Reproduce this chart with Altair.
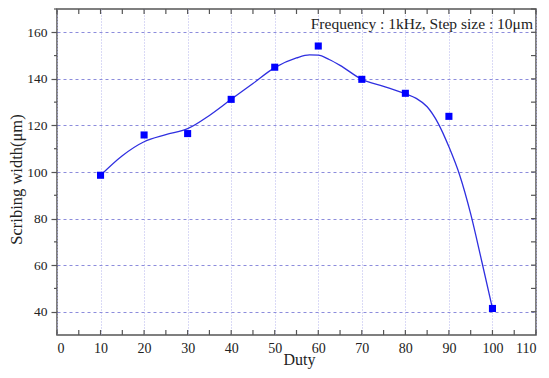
import altair as alt
import pandas as pd

# measured data points
duty = [10, 20, 30, 40, 50, 60, 70, 80, 90, 100]
width = [98.6, 115.9, 116.5, 131.2, 145.0, 154.1, 139.8, 133.8, 123.9, 41.4]

# fitted curve
fit_duty = [10, 15, 20, 25, 30, 35, 40, 45, 50, 55, 58, 60, 62.5, 65, 70, 75, 80,
            82.5, 85, 87.5, 90, 92.5, 95, 97.5, 100]
fit_width = [98.6, 107.0, 113.0, 116.0, 118.6, 124.3, 131.2, 138.0, 144.8, 149.0,
             150.3, 150.2, 148.3, 145.8, 139.8, 136.8, 133.6, 131.6, 128.0, 121.0,
             110.8, 98.5, 82.0, 62.0, 41.4]

x_ticks = list(range(0, 111, 10))
y_ticks = list(range(40, 161, 20))
y_minor = list(range(50, 171, 20))
y_right = list(range(40, 171, 10))
x_all = list(range(0, 111, 5))

annotation = "Frequency : 1kHz, Step size : 10\u03bcm"

W, H = 479, 326
FONT = "Liberation Serif"
AX = "#555555"

xs = alt.Scale(domain=[0, 110], nice=False, zero=False)
ys = alt.Scale(domain=[30, 170], nice=False, zero=False)

pts_df = pd.DataFrame({"duty": duty, "width": width})
fit_df = pd.DataFrame({"duty": fit_duty, "width": fit_width})

base_x = alt.X("duty:Q", scale=xs, title="Duty",
               axis=alt.Axis(values=x_ticks, grid=True, gridColor="#b4b4ec",
                             gridDash=[1, 2], gridWidth=1, ticks=False, tickSize=0,
                             domain=False, labelPadding=6, labelFont=FONT,
                             labelFontSize=14, titleFontSize=16, titleFont=FONT,
                             titlePadding=-4, titleX=242))
base_y = alt.Y("width:Q", scale=ys, title="Scribing width(\u03bcm)",
               axis=alt.Axis(values=y_ticks, grid=True, gridColor="#8c8cdc",
                             gridDash=[3, 3], gridWidth=1, ticks=True, tickSize=6,
                             tickColor=AX, tickWidth=1.2, domain=False,
                             labelPadding=4, labelFont=FONT, labelFontSize=13.5,
                             titleFont=FONT, titleFontSize=16.5,
                             titlePadding=2, titleY=170))

line = alt.Chart(fit_df).mark_line(color="#2f2fe0", strokeWidth=1.3,
                                   interpolate="monotone").encode(x=base_x, y=base_y)
points = alt.Chart(pts_df).mark_point(shape="square", filled=True, size=50,
                                      color="#0000ff", opacity=1).encode(
    x=alt.X("duty:Q", scale=xs), y=alt.Y("width:Q", scale=ys))

def xtick_layer(vals, y0, y1):
    return alt.Chart(pd.DataFrame({"v": vals})).mark_rule(
        color=AX, strokeWidth=1.2).encode(
        x=alt.X("v:Q", scale=xs), y=alt.value(y0), y2=alt.value(y1))

def ytick_layer(vals, x0, x1):
    return alt.Chart(pd.DataFrame({"v": vals})).mark_rule(
        color=AX, strokeWidth=1.2).encode(
        y=alt.Y("v:Q", scale=ys), x=alt.value(x0), x2=alt.value(x1))

bottom_ticks = xtick_layer(x_all, H, H - 5)
top_ticks = xtick_layer(x_all, 0, 5)
right_ticks = ytick_layer(y_right, W, W - 5)
left_minor = ytick_layer(y_minor, 0, -3)

text = alt.Chart(pd.DataFrame({"t": [annotation]})).mark_text(
    font=FONT, fontSize=15.5, align="right", baseline="alphabetic", color="#222"
).encode(text="t:N", x=alt.value(W - 3), y=alt.value(20))

chart = alt.layer(
    line, points, bottom_ticks, top_ticks, right_ticks, left_minor, text
).properties(
    width=W, height=H,
    autosize=alt.AutoSizeParams(type="none"),
    padding={"left": 49, "top": 1, "right": 5, "bottom": 35},
    background="white",
).configure_view(stroke=AX, strokeWidth=1.5).configure_axis(
    labelFont=FONT, titleFont=FONT, labelColor="#222", titleColor="#222",
    titleFontWeight="normal"
)

chart.save("out.html", embed_options={"renderer": "svg", "actions": False})
